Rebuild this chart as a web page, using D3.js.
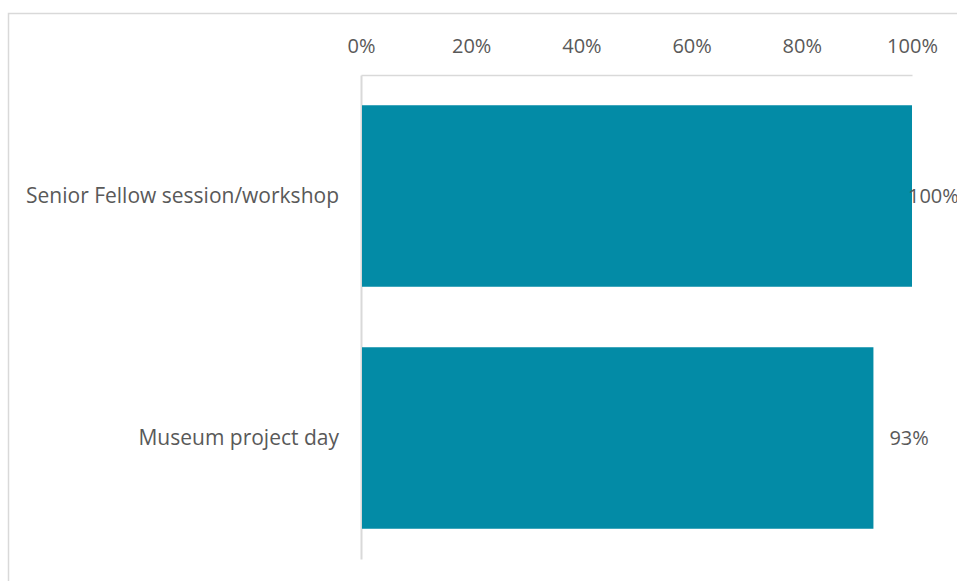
<!DOCTYPE html>
<html>
<head>
<meta charset="utf-8">
<script src="https://cdn.jsdelivr.net/npm/d3@7"></script>
<style>
  html, body { margin: 0; padding: 0; background: #fff; }
  svg { display: block; }
  text { font-family: "Open Sans", sans-serif; fill: #595959; }
</style>
</head>
<body>
<svg id="chart" width="957" height="581"></svg>
<script>
// Share of participants, by activity
const categories = ["Senior Fellow session/workshop", "Museum project day"];
const values = [1.00, 0.93];
const tickValues = [0, 0.2, 0.4, 0.6, 0.8, 1.0];

const W = 957, H = 581;
const margin = { top: 75, right: 45, bottom: 22, left: 361 };
const FONT = "'Open Sans', sans-serif";
const svg = d3.select("#chart");

// chart frame (extends past the window on the right and bottom)
svg.append("rect")
  .attr("x", 8.5).attr("y", 13.5)
  .attr("width", W + 20).attr("height", H + 20)
  .attr("fill", "#fff")
  .attr("stroke", "#d9d9d9").attr("stroke-width", 1.5);

const x = d3.scaleLinear().domain([0, 1]).range([margin.left, W - margin.right]);
const y = d3.scaleBand().domain(categories)
  .range([margin.top, H - margin.bottom])
  .paddingInner(0.25).paddingOuter(0.125);

// top value axis
const xAxis = d3.axisTop(x).tickValues(tickValues)
  .tickFormat(d3.format(".0%")).tickSize(0).tickPadding(22);
const gx = svg.append("g").attr("transform", `translate(0,${margin.top})`).call(xAxis);
gx.select(".domain").attr("stroke", "#d9d9d9").attr("stroke-width", 1.5);
gx.selectAll("text").attr("font-size", 20).style("fill", "#595959")
  .attr("font-family", FONT);

// category axis
const yAxis = d3.axisLeft(y).tickSize(0).tickPadding(22);
const gy = svg.append("g").attr("transform", `translate(${margin.left},0)`).call(yAxis);
gy.select(".domain").attr("stroke", "#d9d9d9").attr("stroke-width", 2);
gy.selectAll("text").attr("font-size", 21).style("fill", "#595959")
  .attr("font-family", FONT);

// bars
svg.append("g").selectAll("rect")
  .data(categories)
  .join("rect")
  .attr("x", x(0) + 1)
  .attr("y", d => y(d))
  .attr("width", (d, i) => x(values[i]) - x(0) - 1)
  .attr("height", y.bandwidth())
  .attr("fill", "#038ba6");

// value labels, kept inside the frame on the right
const fmt = d3.format(".0%");
svg.append("g").selectAll("text")
  .data(categories)
  .join("text")
  .attr("x", (d, i) => Math.min(x(values[i]) + 16, W - 49))
  .attr("y", d => y(d) + y.bandwidth() / 2)
  .attr("dy", "0.35em")
  .attr("font-size", 20)
  .text((d, i) => fmt(values[i]));
</script>
</body>
</html>
